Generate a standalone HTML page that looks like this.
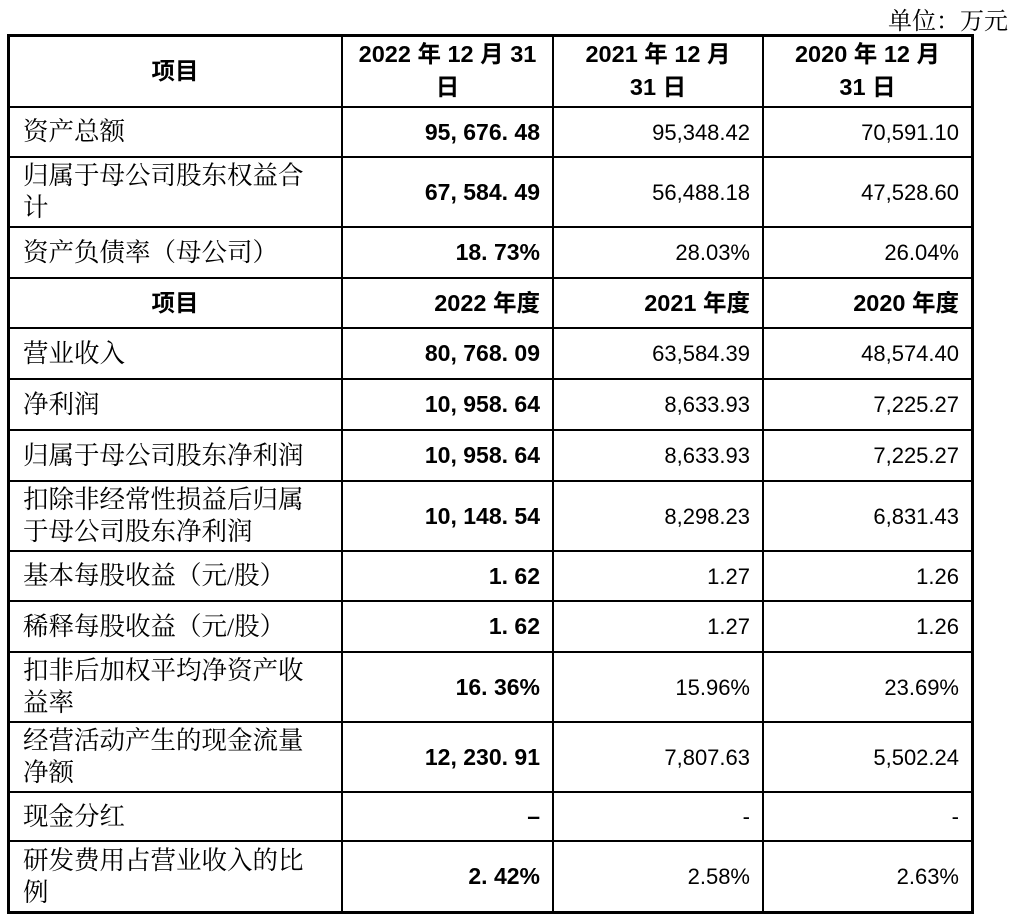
<!DOCTYPE html>
<html><head><meta charset="utf-8"><style>
body{margin:0;width:1011px;height:920px;background:#fff;position:relative;overflow:hidden;font-family:"Liberation Sans","Noto Sans CJK SC",sans-serif;color:#000}
.c{position:absolute;box-sizing:border-box;display:flex;align-items:center;line-height:31px}
.l{padding-left:15px;font-size:25.5px;justify-content:flex-start;font-family:"Liberation Serif","Noto Serif CJK SC",serif;line-height:32px}
.r{padding-right:13px;font-size:22px;justify-content:flex-end;text-align:right}
.h{font-weight:bold;font-size:23.5px;justify-content:center;text-align:center;line-height:33px}
.b{font-weight:bold;font-size:23px}
.hl{position:absolute;background:#000;height:2px}
.vl{position:absolute;background:#000;width:2px}
</style></head><body>
<div style="position:absolute;right:3px;top:1px;font-size:24px;font-family:'Liberation Serif','Noto Serif CJK SC',serif">单位：万元</div>
<div id="t"></div>
<script>
const rows=[
["项目","2022 年 12 月 31<br>日","2021 年 12 月<br>31 日","2020 年 12 月<br>31 日",1],
["资产总额","95, 676. 48","95,348.42","70,591.10",0],
["归属于母公司股东权益合<br>计","67, 584. 49","56,488.18","47,528.60",0],
["资产负债率（母公司）","18. 73%","28.03%","26.04%",0],
["项目","2022 年度","2021 年度","2020 年度",2],
["营业收入","80, 768. 09","63,584.39","48,574.40",0],
["净利润","10, 958. 64","8,633.93","7,225.27",0],
["归属于母公司股东净利润","10, 958. 64","8,633.93","7,225.27",0],
["扣除非经常性损益后归属<br>于母公司股东净利润","10, 148. 54","8,298.23","6,831.43",0],
["基本每股收益（元/股）","1. 62","1.27","1.26",0],
["稀释每股收益（元/股）","1. 62","1.27","1.26",0],
["扣非后加权平均净资产收<br>益率","16. 36%","15.96%","23.69%",0],
["经营活动产生的现金流量<br>净额","12, 230. 91","7,807.63","5,502.24",0],
["现金分红","–","-","-",0],
["研发费用占营业收入的比<br>例","2. 42%","2.58%","2.63%",0]
];
const ys=[35,107,157,227,278,328,379,430,481,551,601,652,722,792,841,912];
const xs=[8,342,553,763,972];
const t=document.getElementById('t');
rows.forEach((r,i)=>{
 for(let j=0;j<4;j++){
  const d=document.createElement('div');
  
  
  let cls='c ';
  if(r[4]===1) cls+='h';
  else if(r[4]===2) cls+= j===0?'h':'r h';
  else cls+= j===0?'l':'r'+(j===1?' b':'');
  d.className=cls;
  if(r[4]===2&&j>0){d.style.justifyContent='flex-end';}
  d.style.left=xs[j]+'px';d.style.width=(xs[j+1]-xs[j])+'px';
  d.style.top=ys[i]+'px';d.style.height=(ys[i+1]-ys[i])+'px';
  d.innerHTML=r[j];
  t.appendChild(d);
 }
});
ys.forEach((y,i)=>{const e=document.createElement('div');
 
 
 e.className='hl';const th=(i==0||i==ys.length-1)?3:2;
 e.style.left='7px';e.style.width='967px';e.style.top=(y-1)+'px';e.style.height=th+'px';document.body.appendChild(e);});
xs.forEach((x,i)=>{const e=document.createElement('div');
 
 
 e.className='vl';const th=(i==0||i==xs.length-1)?3:2;
 e.style.left=(x-1)+'px';e.style.width=th+'px';e.style.top='34px';e.style.height='880px';document.body.appendChild(e);});
</script>
</body></html>
